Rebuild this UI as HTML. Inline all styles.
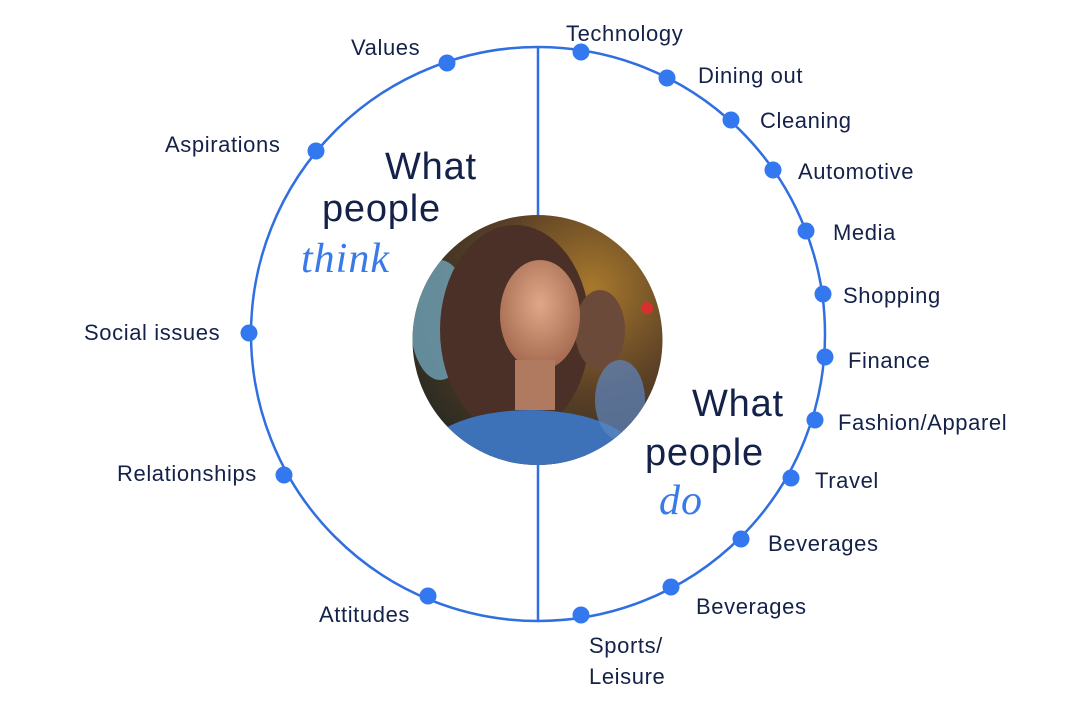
<!DOCTYPE html>
<html><head><style>
body{margin:0;background:#fff;width:1075px;height:716px;overflow:hidden}
svg{display:block}
.l{font-family:"Liberation Sans",sans-serif;font-size:22px;letter-spacing:0.6px;fill:#14224a}
.h{font-family:"Liberation Sans",sans-serif;font-size:38px;letter-spacing:0.8px;fill:#14224a}
.i{font-family:"Liberation Serif",serif;font-style:italic;font-size:42px;letter-spacing:1px;fill:#3a7ae8}
</style></head><body>
<svg width="1075" height="716" viewBox="0 0 1075 716">
<defs>
<clipPath id="c"><circle cx="537.5" cy="340" r="125"/></clipPath>
<radialGradient id="bg" cx="0.7" cy="0.3" r="0.8"><stop offset="0" stop-color="#a8782c"/><stop offset="0.5" stop-color="#5a4026"/><stop offset="1" stop-color="#2a2a22"/></radialGradient>
<radialGradient id="sk" cx="0.5" cy="0.4" r="0.6"><stop offset="0" stop-color="#e0a888"/><stop offset="1" stop-color="#a56a50"/></radialGradient>
</defs>
<circle cx="538" cy="334" r="287" fill="none" stroke="#2f6fe0" stroke-width="2.5"/>
<line x1="538" y1="47" x2="538" y2="215" stroke="#2f6fe0" stroke-width="2.5"/>
<line x1="538" y1="465" x2="538" y2="621" stroke="#2f6fe0" stroke-width="2.5"/>
<g clip-path="url(#c)">
<rect x="410" y="210" width="260" height="260" fill="url(#bg)"/>
<ellipse cx="440" cy="320" rx="30" ry="60" fill="#6fa2b8" opacity="0.8"/>
<circle cx="647" cy="308" r="6" fill="#d83030"/>
<ellipse cx="515" cy="330" rx="75" ry="105" fill="#4a3026"/>
<ellipse cx="600" cy="330" rx="25" ry="40" fill="#6b4a3a"/>
<ellipse cx="540" cy="315" rx="40" ry="55" fill="url(#sk)"/>
<rect x="515" y="360" width="40" height="50" fill="#b07a60"/>
<ellipse cx="530" cy="460" rx="110" ry="50" fill="#3d72b8"/>
<ellipse cx="620" cy="400" rx="25" ry="40" fill="#5d86c0" opacity="0.7"/>
</g>
<g fill="#3478f0">
<circle cx="447" cy="63" r="8.5"/><circle cx="316" cy="151" r="8.5"/><circle cx="249" cy="333" r="8.5"/><circle cx="284" cy="475" r="8.5"/><circle cx="428" cy="596" r="8.5"/>
<circle cx="581" cy="52" r="8.5"/><circle cx="667" cy="78" r="8.5"/><circle cx="731" cy="120" r="8.5"/><circle cx="773" cy="170" r="8.5"/><circle cx="806" cy="231" r="8.5"/><circle cx="823" cy="294" r="8.5"/><circle cx="825" cy="357" r="8.5"/><circle cx="815" cy="420" r="8.5"/><circle cx="791" cy="478" r="8.5"/><circle cx="741" cy="539" r="8.5"/><circle cx="671" cy="587" r="8.5"/><circle cx="581" cy="615" r="8.5"/>
</g>
<g class="l">
<text x="351" y="55">Values</text>
<text x="165" y="152">Aspirations</text>
<text x="84" y="340">Social issues</text>
<text x="117" y="481">Relationships</text>
<text x="319" y="622">Attitudes</text>
<text x="566" y="41">Technology</text>
<text x="698" y="83">Dining out</text>
<text x="760" y="128">Cleaning</text>
<text x="798" y="179">Automotive</text>
<text x="833" y="240">Media</text>
<text x="843" y="303">Shopping</text>
<text x="848" y="368">Finance</text>
<text x="838" y="430">Fashion/Apparel</text>
<text x="815" y="488">Travel</text>
<text x="768" y="551">Beverages</text>
<text x="696" y="614">Beverages</text>
<text x="589" y="653">Sports/</text>
<text x="589" y="684">Leisure</text>
</g>
<text class="h" x="385" y="179">What</text>
<text class="h" x="322" y="221">people</text>
<text class="i" x="301" y="272">think</text>
<text class="h" x="692" y="416">What</text>
<text class="h" x="645" y="465">people</text>
<text class="i" x="659" y="514">do</text>
</svg>
</body></html>
